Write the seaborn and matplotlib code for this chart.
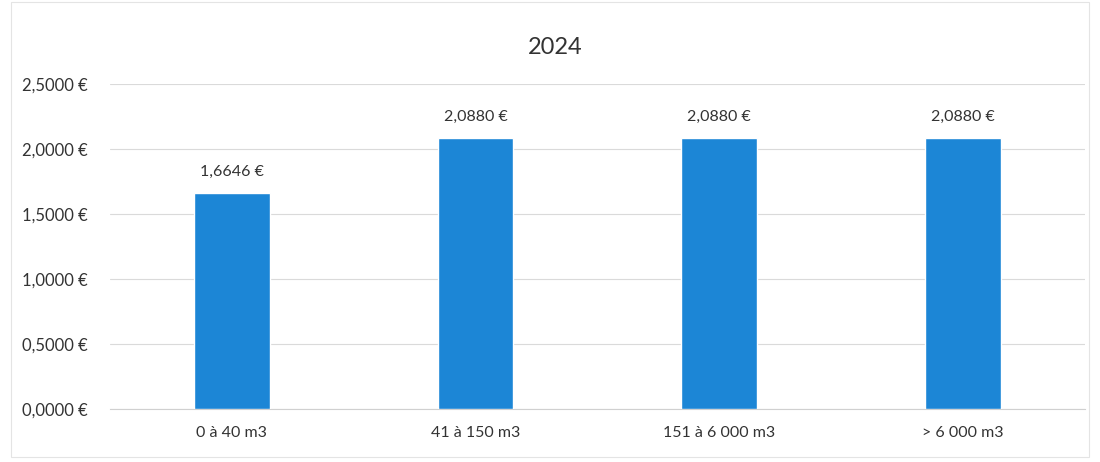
import matplotlib
matplotlib.use("Agg")
import matplotlib.pyplot as plt
import seaborn as sns
import pandas as pd

categories = ["0 à 40 m3", "41 à 150 m3", "151 à 6 000 m3", "> 6 000 m3"]
values = [1.6646, 2.0880, 2.0880, 2.0880]
yticks = [0.0, 0.5, 1.0, 1.5, 2.0, 2.5]
title = "2024"

def fmt(v):
    return f"{v:.4f}".replace(".", ",") + " €"

sns.set_theme(style="white")
plt.rcParams["font.family"] = ["Lato", "DejaVu Sans"]

df = pd.DataFrame({"cat": categories, "val": values})
fig = plt.figure(figsize=(11, 4.62), dpi=100)
ax = fig.add_axes([0.10, 0.115, 0.886, 0.703])
sns.barplot(data=df, x="cat", y="val", color="#1C86D6", saturation=1, width=0.31, ax=ax, zorder=3)

ax.set_ylim(0, 2.5)
ax.set_yticks(yticks)
ax.set_yticklabels([fmt(v) for v in yticks], fontsize=12, color="#333333")
ax.tick_params(axis="x", labelsize=11.5, labelcolor="#333333", length=0, pad=12)
ax.tick_params(axis="y", length=0, pad=16)
ax.yaxis.grid(True, color="#DADADA", linewidth=0.8, zorder=0)
ax.set_xlabel("")
ax.set_ylabel("")
for s in ["top", "right", "left"]:
    ax.spines[s].set_visible(False)
ax.spines["bottom"].set_color("#D0D0D0")
ax.spines["bottom"].set_linewidth(0.8)

for i, v in enumerate(values):
    ax.annotate(fmt(v), (i, v), xytext=(0, 10), textcoords="offset points",
                ha="center", va="bottom", fontsize=11.5, color="#333333")

fig.text(0.505, 0.898, title, ha="center", va="center", fontsize=17, color="#333333")

fig.patches.append(plt.Rectangle((0.01, 0.01), 0.98, 0.985, transform=fig.transFigure,
                                 fill=False, edgecolor="#E4E4E4", linewidth=0.8))
fig.savefig("out.png", dpi=100)
